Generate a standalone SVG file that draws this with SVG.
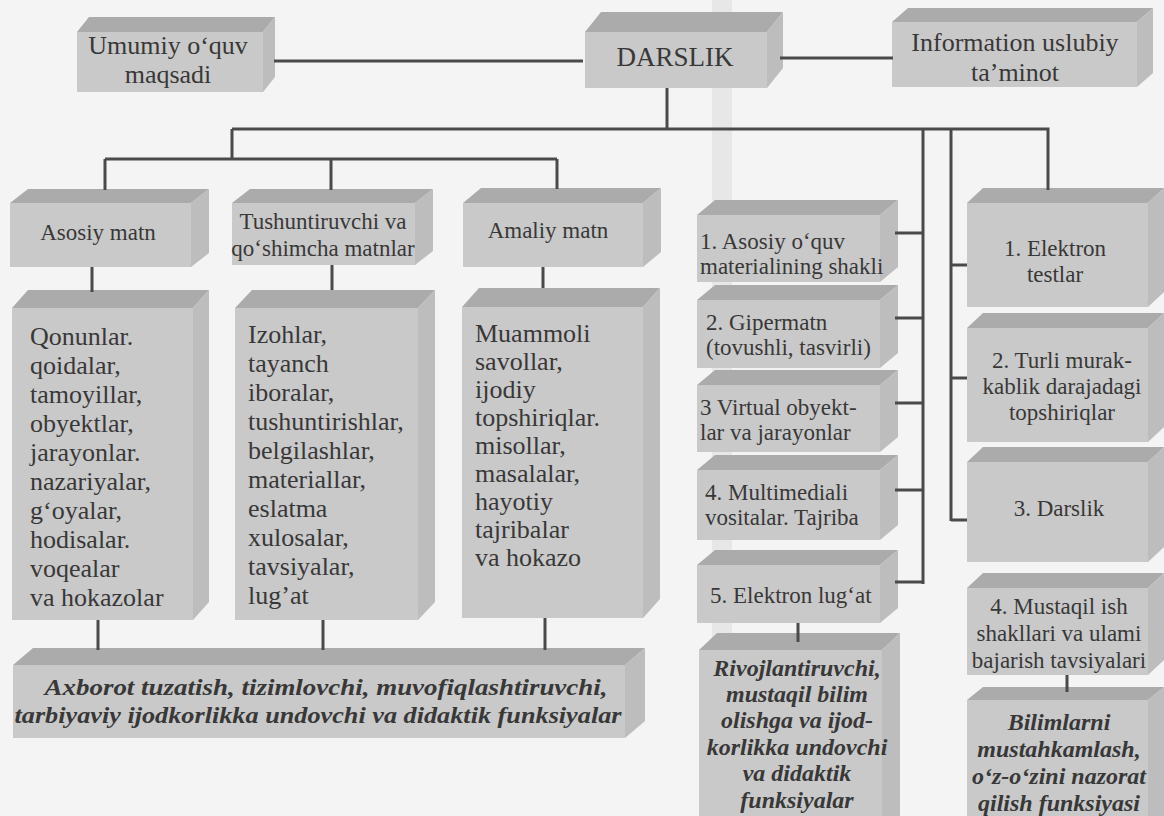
<svg xmlns="http://www.w3.org/2000/svg" width="1164" height="816" viewBox="0 0 1164 816">
<style>
.f{fill:#c9c9c9}
.t{fill:#ababab}
.s{fill:#bdbdbd}
.c{fill:none;stroke:#4a4a4a;stroke-width:3}
text{font-family:"Liberation Serif","Times New Roman",serif;fill:#383838}
.t27{font-size:26px;text-anchor:middle}
.t23{font-size:23px}
.m{text-anchor:middle}
.t26{font-size:26px}
.bi{font-weight:bold;font-style:italic}
.b24{font-size:24px;font-weight:bold;font-style:italic;text-anchor:middle}
</style>
<rect width="1164" height="816" fill="#f4f4f4"/>
<rect x="712" y="0" width="20" height="816" fill="#000" opacity="0.05"/>

<g id="umumiy">
<polygon class="t" points="77,32 89,17 275,17 263,32"/>
<polygon class="s" points="263,32 275,17 275,77 263,92"/>
<rect class="f" x="77" y="32" width="186" height="60"/>
<text class="t27" x="168" y="54">Umumiy o‘quv</text>
<text class="t27" x="168" y="83">maqsadi</text>
</g>
<g id="darslik">
<polygon class="t" points="585,32 601,12 783,12 767,32"/>
<polygon class="s" points="767,32 783,12 783,68 767,88"/>
<rect class="f" x="585" y="32" width="182" height="56"/>
<text class="t27" x="675" y="66" style="font-size:27px">DARSLIK</text>
</g>
<g id="info">
<polygon class="t" points="892,22 908,8 1153,8 1137,22"/>
<polygon class="s" points="1137,22 1153,8 1153,73 1137,87"/>
<rect class="f" x="892" y="22" width="245" height="65"/>
<text class="t27" x="1015" y="51">Information uslubiy</text>
<text class="t27" x="1015" y="81">ta’minot</text>
</g>

<g id="asosiy">
<polygon class="t" points="10,203 28,189 209,189 191,203"/>
<polygon class="s" points="191,203 209,189 209,253 191,267"/>
<rect class="f" x="10" y="203" width="181" height="64"/>
<text class="t23 m" x="98" y="240">Asosiy matn</text>
</g>
<g id="tushuntiruvchi">
<polygon class="t" points="232,203 250,189 433,189 415,203"/>
<polygon class="s" points="415,203 433,189 433,251 415,265"/>
<rect class="f" x="232" y="203" width="183" height="62"/>
<text class="t23 m" x="323" y="229">Tushuntiruvchi va</text>
<text class="t23 m" x="323" y="256">qo‘shimcha matnlar</text>
</g>
<g id="amaliy">
<polygon class="t" points="463,203 481,188 661,188 643,203"/>
<polygon class="s" points="643,203 661,188 661,252 643,267"/>
<rect class="f" x="463" y="203" width="180" height="64"/>
<text class="t23 m" x="548" y="238">Amaliy matn</text>
</g>

<g id="qonunlar">
<polygon class="t" points="12,308 28,290 209,290 193,308"/>
<polygon class="s" points="193,308 209,290 209,602 193,620"/>
<rect class="f" x="12" y="308" width="181" height="312"/>
<text class="t26" x="30" y="345">Qonunlar.</text>
<text class="t26" x="30" y="374">qoidalar,</text>
<text class="t26" x="30" y="403">tamoyillar,</text>
<text class="t26" x="30" y="432">obyektlar,</text>
<text class="t26" x="30" y="461">jarayonlar.</text>
<text class="t26" x="30" y="490">nazariyalar,</text>
<text class="t26" x="30" y="519">g‘oyalar,</text>
<text class="t26" x="30" y="548">hodisalar.</text>
<text class="t26" x="30" y="577">voqealar</text>
<text class="t26" x="30" y="606">va hokazolar</text>
</g>
<g id="izohlar">
<polygon class="t" points="235,308 252,290 435,290 418,308"/>
<polygon class="s" points="418,308 435,290 435,602 418,620"/>
<rect class="f" x="235" y="308" width="183" height="312"/>
<text class="t26" x="248" y="343">Izohlar,</text>
<text class="t26" x="248" y="372">tayanch</text>
<text class="t26" x="248" y="401">iboralar,</text>
<text class="t26" x="248" y="430">tushuntirishlar,</text>
<text class="t26" x="248" y="459">belgilashlar,</text>
<text class="t26" x="248" y="488">materiallar,</text>
<text class="t26" x="248" y="517">eslatma</text>
<text class="t26" x="248" y="546">xulosalar,</text>
<text class="t26" x="248" y="575">tavsiyalar,</text>
<text class="t26" x="248" y="604">lug’at</text>
</g>
<g id="muammoli">
<polygon class="t" points="462,307 479,288 660,288 643,307"/>
<polygon class="s" points="643,307 660,288 660,599 643,618"/>
<rect class="f" x="462" y="307" width="181" height="311"/>
<text class="t26" x="475" y="342">Muammoli</text>
<text class="t26" x="475" y="370">savollar,</text>
<text class="t26" x="475" y="398">ijodiy</text>
<text class="t26" x="475" y="426">topshiriqlar.</text>
<text class="t26" x="475" y="454">misollar,</text>
<text class="t26" x="475" y="482">masalalar,</text>
<text class="t26" x="475" y="510">hayotiy</text>
<text class="t26" x="475" y="538">tajribalar</text>
<text class="t26" x="475" y="566">va hokazo</text>
</g>
<g id="funksiyalar">
<polygon class="t" points="13,665 33,648 645,648 625,665"/>
<polygon class="s" points="625,665 645,648 645,721 625,738"/>
<rect class="f" x="13" y="665" width="612" height="73"/>
<text class="bi m" style="font-size:24px" x="326" y="695" textLength="563" lengthAdjust="spacingAndGlyphs">Axborot tuzatish, tizimlovchi, muvofiqlashtiruvchi,</text>
<text class="bi m" style="font-size:24px" x="318" y="723" textLength="607" lengthAdjust="spacingAndGlyphs">tarbiyaviy ijodkorlikka undovchi va didaktik funksiyalar</text>
</g>

<g id="m1">
<polygon class="t" points="697,215 715,200 898,200 880,215"/>
<polygon class="s" points="880,215 898,200 898,267 880,282"/>
<rect class="f" x="697" y="215" width="183" height="67"/>
<text class="t23" x="700" y="249">1. Asosiy o‘quv</text>
<text class="t23" x="700" y="274">materialining shakli</text>
</g>
<g id="m2">
<polygon class="t" points="697,300 715,285 898,285 880,300"/>
<polygon class="s" points="880,300 898,285 898,353 880,368"/>
<rect class="f" x="697" y="300" width="183" height="68"/>
<text class="t23" x="706" y="330">2. Gipermatn</text>
<text class="t23" x="706" y="355">(tovushli, tasvirli)</text>
</g>
<g id="m3">
<polygon class="t" points="697,385 715,370 898,370 880,385"/>
<polygon class="s" points="880,385 898,370 898,437 880,452"/>
<rect class="f" x="697" y="385" width="183" height="67"/>
<text class="t23" x="700" y="415">3  Virtual obyekt-</text>
<text class="t23" x="700" y="440">lar va jarayonlar</text>
</g>
<g id="m4">
<polygon class="t" points="697,470 715,455 898,455 880,470"/>
<polygon class="s" points="880,470 898,455 898,525 880,540"/>
<rect class="f" x="697" y="470" width="183" height="70"/>
<text class="t23" x="705" y="500">4. Multimediali</text>
<text class="t23" x="705" y="525">vositalar. Tajriba</text>
</g>
<g id="m5">
<polygon class="t" points="697,565 715,550 898,550 880,565"/>
<polygon class="s" points="880,565 898,550 898,608 880,623"/>
<rect class="f" x="697" y="565" width="183" height="58"/>
<text class="t23" x="710" y="603">5. Elektron lug‘at</text>
</g>
<g id="rivoj">
<polygon class="t" points="699,650 717,633 900,633 882,650"/>
<polygon class="s" points="882,650 900,633 900,816 882,816"/>
<rect class="f" x="699" y="650" width="183" height="166"/>
<text class="b24" x="797" y="676">Rivojlantiruvchi,</text>
<text class="b24" x="797" y="702">mustaqil bilim</text>
<text class="b24" x="797" y="728">olishga va ijod-</text>
<text class="b24" x="797" y="755">korlikka undovchi</text>
<text class="b24" x="797" y="781">va didaktik</text>
<text class="b24" x="797" y="808">funksiyalar</text>
</g>

<g id="r1">
<polygon class="t" points="967,203 983,188 1164,188 1148,203"/>
<polygon class="s" points="1148,203 1164,188 1164,292 1148,307"/>
<rect class="f" x="967" y="203" width="181" height="104"/>
<text class="t23 m" x="1055" y="256">1. Elektron</text>
<text class="t23 m" x="1055" y="282">testlar</text>
</g>
<g id="r2">
<polygon class="t" points="967,328 983,313 1164,313 1148,328"/>
<polygon class="s" points="1148,328 1164,313 1164,427 1148,442"/>
<rect class="f" x="967" y="328" width="181" height="114"/>
<text class="t23 m" x="1062" y="368">2. Turli murak-</text>
<text class="t23 m" x="1062" y="394">kablik darajadagi</text>
<text class="t23 m" x="1062" y="420">topshiriqlar</text>
</g>
<g id="r3">
<polygon class="t" points="967,462 983,447 1164,447 1148,462"/>
<polygon class="s" points="1148,462 1164,447 1164,547 1148,562"/>
<rect class="f" x="967" y="462" width="181" height="100"/>
<text class="t23 m" x="1059" y="516">3. Darslik</text>
</g>
<g id="r4">
<polygon class="t" points="967,588 983,573 1164,573 1148,588"/>
<polygon class="s" points="1148,588 1164,573 1164,660 1148,675"/>
<rect class="f" x="967" y="588" width="181" height="87"/>
<text class="t23 m" x="1059" y="614">4. Mustaqil ish</text>
<text class="t23 m" x="1059" y="641">shakllari va ulami</text>
<text class="t23 m" x="1059" y="668">bajarish tavsiyalari</text>
</g>
<g id="bilim">
<polygon class="t" points="967,700 983,687 1164,687 1148,700"/>
<polygon class="s" points="1148,700 1164,687 1164,816 1148,816"/>
<rect class="f" x="967" y="700" width="181" height="116"/>
<text class="b24" x="1059" y="730">Bilimlarni</text>
<text class="b24" x="1059" y="757">mustahkamlash,</text>
<text class="b24" x="1059" y="784">o‘z-o‘zini nazorat</text>
<text class="b24" x="1059" y="811">qilish funksiyasi</text>
</g>

<g id="connectors" class="c">
<path d="M274 61H583"/>
<path d="M780 58H893"/>
<path d="M667 88V129"/>
<path d="M232 129H1048V190"/>
<path d="M232 129V159"/>
<path d="M105 159H557"/>
<path d="M105 159V190M331 159V190M557 159V189"/>
<path d="M92 267V292M332 265V290M543 267V288"/>
<path d="M98 620V650M323 620V650M545 618V650"/>
<path d="M923 129V584"/>
<path d="M895 233H923M895 318H923M895 403H923M895 490H923M895 582H923"/>
<path d="M951 129V521"/>
<path d="M951 265H967M951 378H967M951 520H967"/>
<path d="M798 623V642"/>
<path d="M1067 675V692"/>
</g>
</svg>
